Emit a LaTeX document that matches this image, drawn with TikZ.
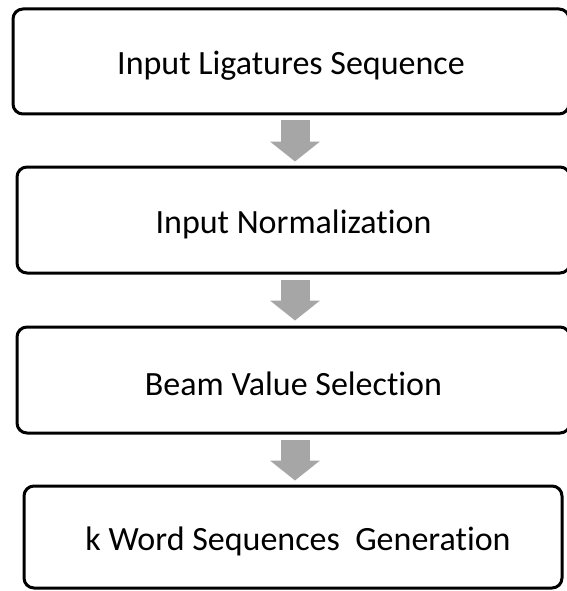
\documentclass[tikz,border=0pt]{standalone}
\usepackage{fontspec}
\setmainfont{Carlito}[Ligatures={NoCommon}]
\usetikzlibrary{arrows.meta,calc}
\definecolor{flowgray}{HTML}{A6A6A6}
% lower the label a little inside its box, keeping the box size
\newcommand{\steplabel}[1]{\raisebox{-4pt}[\height][\depth]{#1}}
\begin{document}
\begin{tikzpicture}[x=1pt,y=-1pt,
  stepbox/.style={draw=black, line width=3pt, rounded corners=10pt,
    fill=white, inner sep=0pt, font=\fontsize{34}{40}\selectfont},
  flowarrow/.style={draw=flowgray, line width=29pt,
    -{Triangle[width=49pt,length=20pt,fill=flowgray]}}]
  \useasboundingbox (0,0) rectangle (566,591);
  \fill[white] (0,0) rectangle (566,591);
  \coordinate (axis) at (295,0);

  \node[stepbox, minimum width=556pt, minimum height=105pt] (b1) at (291,61.5)
    {\steplabel{Input Ligatures Sequence}};
  \node[stepbox, minimum width=553pt, minimum height=106pt] (b2) at (293.5,220)
    {\steplabel{Input Normalization}};
  \node[stepbox, minimum width=553pt, minimum height=106pt] (b3) at (293.5,380)
    {\steplabel{Beam Value Selection}};
  \node[stepbox, minimum width=538pt, minimum height=102pt] (b4) at (293,537)
    {\steplabel{\hspace{10pt}k Word Sequences\ \ Generation}};

  \draw[flowarrow] ($(b1.south -| axis)+(0,5)$) -- ($(b2.north -| axis)+(0,-4)$);
  \draw[flowarrow] ($(b2.south -| axis)+(0,5)$) -- ($(b3.north -| axis)+(0,-5)$);
  \draw[flowarrow] ($(b3.south -| axis)+(0,5)$) -- ($(b4.north -| axis)+(0,-4)$);
\end{tikzpicture}
\end{document}
